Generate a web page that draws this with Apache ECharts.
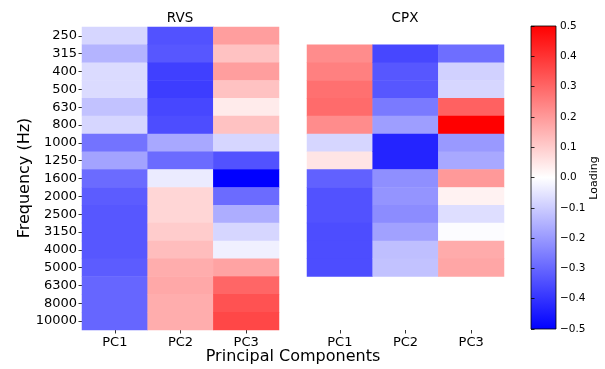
<!DOCTYPE html>
<html>
<head>
<meta charset="utf-8">
<script src="https://cdn.jsdelivr.net/npm/echarts@6/dist/echarts.min.js"></script>
<style>html,body{margin:0;padding:0;background:#fff;}#c{width:605px;height:369px;}</style>
</head>
<body>
<div id="c"></div>
<script>
const freqs = ['250','315','400','500','630','800','1000','1250','1600','2000','2500','3150','4000','5000','6300','8000','10000'];
const pcs = ['PC1','PC2','PC3'];
// RVS loadings (17 frequencies)
const rvsPC1 = [-0.08,-0.147,-0.07,-0.07,-0.12,-0.08,-0.275,-0.18,-0.29,-0.32,-0.33,-0.33,-0.33,-0.32,-0.30,-0.30,-0.30];
const rvsPC2 = [-0.34,-0.33,-0.375,-0.38,-0.36,-0.35,-0.17,-0.29,-0.04,0.08,0.08,0.10,0.13,0.16,0.17,0.16,0.16];
const rvsPC3 = [0.19,0.12,0.19,0.12,0.04,0.12,-0.08,-0.34,-0.5,-0.29,-0.16,-0.08,-0.03,0.18,0.30,0.34,0.36];
// CPX loadings (315 Hz - 5000 Hz)
const cpxFreqs = ['315','400','500','630','800','1000','1250','1600','2000','2500','3150','4000','5000'];
const cpxPC1 = [0.225,0.25,0.28,0.29,0.225,-0.08,0.05,-0.31,-0.34,-0.34,-0.35,-0.35,-0.35];
const cpxPC2 = [-0.36,-0.33,-0.33,-0.26,-0.19,-0.43,-0.43,-0.22,-0.21,-0.225,-0.185,-0.125,-0.12];
const cpxPC3 = [-0.285,-0.09,-0.08,0.31,0.5,-0.2,-0.17,0.2,0.025,-0.065,-0.005,0.165,0.175];
const cbTicks = [-0.5,-0.4,-0.3,-0.2,-0.1,0.0,0.1,0.2,0.3,0.4,0.5];

function build(cols, rowNames) {
  const out = [];
  cols.forEach((col, i) => {
    col.forEach((v, j) => {
      out.push([i, freqs.indexOf(rowNames[j]), v]);
    });
  });
  return out;
}
const rvsData = build([rvsPC1, rvsPC2, rvsPC3], freqs);
const cpxData = build([cpxPC1, cpxPC2, cpxPC3], cpxFreqs);

const FONT = 'DejaVu Sans';
const chart = echarts.init(document.getElementById('c'), null, {renderer: 'canvas'});

const gridBox = [
  {left: 82, top: 27, width: 197, height: 303},
  {left: 307, top: 27, width: 197, height: 303},
  {left: 531, top: 26, width: 25, height: 303}
];

function catX(idx) {
  return {
    type: 'category', gridIndex: idx, data: pcs,
    axisLine: {show: false},
    axisTick: {show: true, alignWithLabel: true, length: 3.5, lineStyle: {color: '#000', width: 0.8}},
    axisLabel: {color: '#000', fontFamily: FONT, fontSize: 13, margin: 6},
    splitLine: {show: false}
  };
}
function catY(idx, showLabels) {
  return {
    type: 'category', gridIndex: idx, data: freqs, inverse: true,
    axisLine: {show: false},
    axisTick: {show: showLabels, alignWithLabel: true, length: 3.5, lineStyle: {color: '#000', width: 0.8}},
    axisLabel: {show: showLabels, color: '#000', fontFamily: FONT, fontSize: 13, margin: 5},
    splitLine: {show: false}
  };
}

const option = {
  backgroundColor: '#fff',
  animation: false,
  grid: gridBox,
  xAxis: [catX(0), catX(1), {type: 'value', gridIndex: 2, show: false, min: 0, max: 1}],
  yAxis: [
    catY(0, true), catY(1, false),
    {
      type: 'value', gridIndex: 2, position: 'right', min: -0.5, max: 0.5, interval: 0.1,
      axisLine: {show: false},
      axisTick: {show: true, length: 3.5, lineStyle: {color: '#000', width: 0.8}},
      axisLabel: {color: '#000', fontFamily: FONT, fontSize: 10.5, margin: 4,
        formatter: v => { const s = Math.abs(v).toFixed(1); return (v < -1e-9 ? '\u2212' : '') + s; }},
      splitLine: {show: false}
    }
  ],
  visualMap: {
    show: false, type: 'continuous', min: -0.5, max: 0.5, seriesIndex: [0, 1],
    inRange: {color: ['#0000ff', '#ffffff', '#ff0000']}
  },
  series: [
    {type: 'heatmap', xAxisIndex: 0, yAxisIndex: 0, data: rvsData, emphasis: {disabled: true}, progressive: 0},
    {type: 'heatmap', xAxisIndex: 1, yAxisIndex: 1, data: cpxData, emphasis: {disabled: true}, progressive: 0}
  ],
  graphic: [
    {type: 'rect', z: 0, shape: {x: 531, y: 26, width: 25, height: 303},
     style: {fill: new echarts.graphic.LinearGradient(0, 0, 0, 1, [
       {offset: 0, color: '#ff0000'}, {offset: 0.5, color: '#ffffff'}, {offset: 1, color: '#0000ff'}]),
       stroke: '#000', lineWidth: 0.8}},
    {type: 'text', x: 180, y: 18, style: {text: 'RVS', font: '13.5px "DejaVu Sans"', fill: '#000', textAlign: 'center', textVerticalAlign: 'middle'}},
    {type: 'text', x: 405, y: 18, style: {text: 'CPX', font: '13.5px "DejaVu Sans"', fill: '#000', textAlign: 'center', textVerticalAlign: 'middle'}},
    {type: 'text', x: 293, y: 357, style: {text: 'Principal Components', font: '16px "DejaVu Sans"', fill: '#000', textAlign: 'center', textVerticalAlign: 'middle'}},
    {type: 'text', x: 25, y: 178, rotation: Math.PI / 2, style: {text: 'Frequency (Hz)', font: '16px "DejaVu Sans"', fill: '#000', textAlign: 'center', textVerticalAlign: 'middle'}},
    {type: 'text', x: 594, y: 178, rotation: Math.PI / 2, style: {text: 'Loading', font: '11px "DejaVu Sans"', fill: '#000', textAlign: 'center', textVerticalAlign: 'middle'}}
  ]
};
chart.setOption(option);
</script>
</body>
</html>
